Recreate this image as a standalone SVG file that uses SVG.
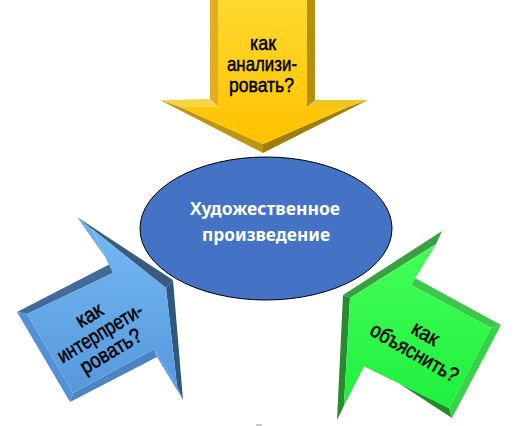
<svg xmlns="http://www.w3.org/2000/svg" width="522" height="426" viewBox="0 0 522 426">
<defs>
<linearGradient id="gy" x1="0" y1="0" x2="0" y2="1"><stop offset="0" stop-color="#ffd92e"/><stop offset="1" stop-color="#ffc200"/></linearGradient>
<linearGradient id="gb" x1="0" y1="0" x2="0" y2="1"><stop offset="0" stop-color="#72b8f2"/><stop offset="1" stop-color="#5798dc"/></linearGradient>
<linearGradient id="gg" x1="0" y1="0" x2="0" y2="1"><stop offset="0" stop-color="#45ff5a"/><stop offset="1" stop-color="#1ef03c"/></linearGradient>
<style>
.lbl{font-family:"Liberation Sans",Arial,sans-serif;font-size:21px;fill:#000;stroke:#000;stroke-width:0.5px;}
.cap{font-family:"Noto Sans","Open Sans",sans-serif;font-weight:bold;font-size:18px;fill:#fff;}
</style>
</defs>
<rect width="522" height="426" fill="#fff"/>
<g id="connectors"/>
<g id="arrow-top">
<polygon points="210,0 210,99 218,107 218,0" fill="#e3ae22"/>
<polygon points="210,99 160,100 180,107 218,107" fill="#f7d445"/>
<polygon points="160,100 263,153 263,144 180,107" fill="#c09610"/>
<polygon points="263,153 368,100 348,107 263,144" fill="#a07c08"/>
<polygon points="368,100 315,100 307,107 348,107" fill="#f2c422"/>
<polygon points="315,100 315,0 307,0 307,107" fill="#b78f0e"/>
<polygon points="218,0 218,107 180,107 263,144 348,107 307,107 307,0" fill="url(#gy)"/>
<text class="lbl" x="250" y="50" textLength="26" lengthAdjust="spacingAndGlyphs">как</text>
<text class="lbl" x="227" y="71" textLength="70" lengthAdjust="spacingAndGlyphs">анализи-</text>
<text class="lbl" x="229" y="92" textLength="65" lengthAdjust="spacingAndGlyphs">ровать?</text>
</g>
<g id="arrow-left">
<polygon points="17,312 110,264 113,273 27,314" fill="#3f6c98"/>
<polygon points="110,264 77,217 92,229 113,273" fill="#6cb0ec"/>
<polygon points="77,217 173,280 166,288 92,229" fill="#3b5b7c"/>
<polygon points="173,280 183,400 177,386 166,288" fill="#2f5880"/>
<polygon points="183,400 157,357 154,349 177,386" fill="#5a9ce0"/>
<polygon points="157,357 70,402 73,393 154,349" fill="#4a84c4"/>
<polygon points="70,402 17,312 27,314 73,393" fill="#5192d4"/>
<polygon points="27,314 113,273 92,229 166,288 177,386 154,349 73,393" fill="url(#gb)"/>
<g transform="translate(100,333) rotate(-31)">
<text class="lbl" x="-14" y="-14" textLength="28" lengthAdjust="spacingAndGlyphs">как</text>
<text class="lbl" x="-48" y="7" textLength="96" lengthAdjust="spacingAndGlyphs">интерпрети-</text>
<text class="lbl" x="-34" y="28" textLength="68" lengthAdjust="spacingAndGlyphs">ровать?</text>
</g>
</g>
<g id="arrow-right">
<polygon points="442,231 415,278 411,285 436,244" fill="#58f066"/>
<polygon points="415,278 501,325 491,328 411,285" fill="#3cc84a"/>
<polygon points="501,325 452,418 449,408 491,328" fill="#34d446"/>
<polygon points="452,418 360,358 364,366 449,408" fill="#228c2c"/>
<polygon points="360,358 337,420 344,405 364,366" fill="#2aa236"/>
<polygon points="337,420 343,295 350,298 344,405" fill="#2a8a32"/>
<polygon points="343,295 442,231 436,244 350,298" fill="#3aa042"/>
<polygon points="436,244 411,285 491,328 449,408 364,366 344,405 350,298" fill="url(#gg)"/>
<g transform="translate(420,343) rotate(30)">
<text class="lbl" x="-14" y="-4" textLength="28" lengthAdjust="spacingAndGlyphs">как</text>
<text class="lbl" x="-49" y="18" textLength="98" lengthAdjust="spacingAndGlyphs">объяснить?</text>
</g>
</g>
<g id="center">
<ellipse cx="266" cy="228.5" rx="126" ry="71.5" fill="#4472c4" stroke="#000" stroke-width="1"/>
<text class="cap" x="190" y="215" textLength="150" lengthAdjust="spacingAndGlyphs">Художественное</text>
<text class="cap" x="202" y="241" textLength="128" lengthAdjust="spacingAndGlyphs">произведение</text>
</g>
<rect x="256" y="424" width="6" height="2" fill="#c8c8c8"/>
</svg>
